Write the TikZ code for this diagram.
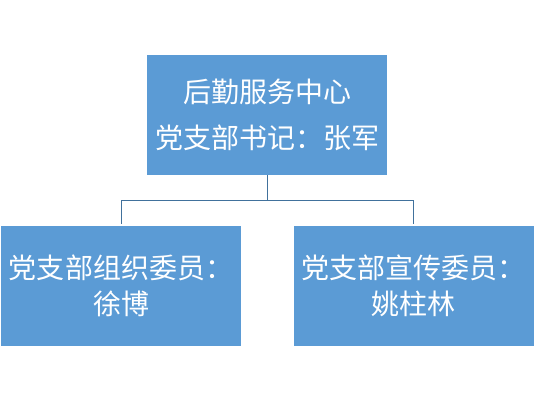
\documentclass[tikz,border=0pt]{standalone}
\usepackage{fontspec}
\newfontfamily\cjk{Noto Sans CJK SC}
\definecolor{boxblue}{HTML}{5B9BD5}
\definecolor{linkblue}{HTML}{41719C}
\begin{document}
\begin{tikzpicture}[
        x=1pt, y=-1pt,
        unit/.style={rectangle, fill=boxblue, text=white, align=center,
            minimum width=240pt, minimum height=120pt, inner sep=0pt, outer sep=0pt},
        toptext/.style={font={\cjk\fontsize{28pt}{46pt}\selectfont}},
        subtext/.style={font={\cjk\fontsize{28pt}{36pt}\selectfont}},
        link/.style={linkblue, line width=0.9pt, shorten >=2pt}
    ]
    \useasboundingbox (0,0) rectangle (534,400);

    % Vedení střediska nahoře
    \node[unit, toptext] (center) at (267, 115) {后勤服务中心\\党支部书记：张军};

    % Dva členové výboru dole
    \node[unit, subtext] (organize) at (121, 286) {党支部组织委员：\\徐博};
    \node[unit, subtext] (publicity) at (413.5, 286) {党支部宣传委员：\\姚柱林};

    % Spojnice přes společnou vodorovnou linku
    \coordinate (bus) at (267, 200);
    \draw[link, shorten >=0pt] (center.south) -- (bus);
    \draw[link] (bus) -| (organize.north);
    \draw[link] (bus) -| (publicity.north);

    \end{tikzpicture}
\end{document}
